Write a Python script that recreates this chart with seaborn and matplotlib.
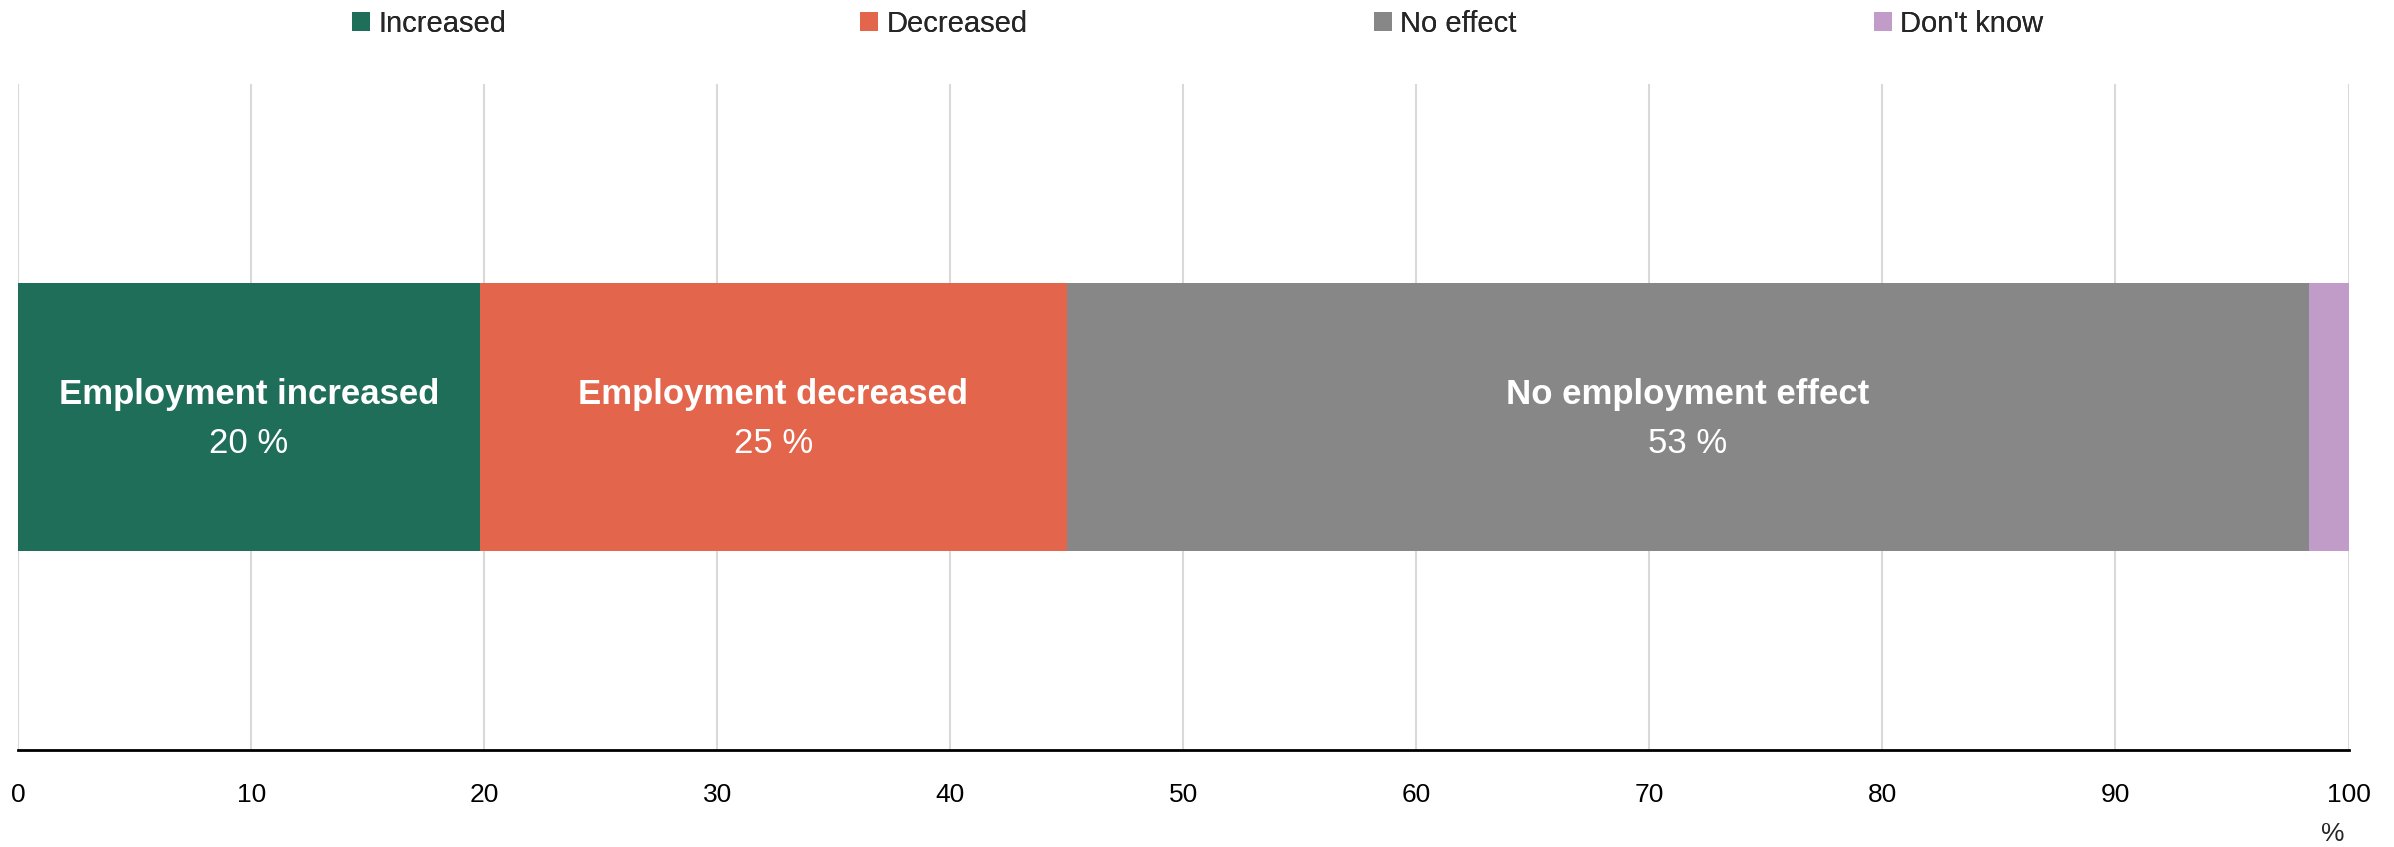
import numpy as np
import pandas as pd
import matplotlib
matplotlib.use("Agg")
import matplotlib.pyplot as plt
from matplotlib import font_manager
from matplotlib.patches import Patch
import seaborn as sns

# Survey shares (%) of firms by employment effect
categories = ["Increased", "Decreased", "No effect", "Don't know"]
shares = [19.8, 25.2, 53.3, 1.7]
segment_labels = ["Employment increased", "Employment decreased", "No employment effect", ""]
colors = ["#1F6E5A", "#E3654C", "#878787", "#C19CC8"]
x_ticks = [0, 10, 20, 30, 40, 50, 60, 70, 80, 90, 100]

sns.set_theme(style="white")
available = {f.name for f in font_manager.fontManager.ttflist}
narrow = "Liberation Sans Narrow" if "Liberation Sans Narrow" in available else "Liberation Sans"
plt.rcParams["font.family"] = [narrow, "DejaVu Sans"]

fig = plt.figure(figsize=(23.94, 8.47), dpi=100)
ax = fig.add_axes([0.00765, 0.115, 0.981 - 0.00765, 0.901 - 0.115])

# Stacked bar: draw cumulative totals from the widest down so each segment shows
cum = np.cumsum(shares)
starts = cum - np.array(shares)
df = pd.DataFrame({"row": ["all"] * len(categories), "category": categories, "cum": cum})
for i in range(len(categories) - 1, -1, -1):
    sns.barplot(data=df.iloc[[i]], x="cum", y="row", color=colors[i], width=0.403,
                saturation=1, ax=ax, orient="h", linewidth=0, zorder=3)

ax.set_ylim(0.5, -0.5)
ax.set_xlim(0, 100)
ax.set_xticks(x_ticks)
ax.set_xticklabels([str(t) for t in x_ticks], fontsize=19)
ax.tick_params(axis="x", length=0, pad=24, colors="black")
ax.set_yticks([])
ax.set_xlabel("")
ax.set_ylabel("")
for t in x_ticks:
    ax.axvline(t, color="#d9d9d9", linewidth=1.5, zorder=0)
for side in ["left", "right", "top"]:
    ax.spines[side].set_visible(False)
ax.spines["bottom"].set_color("black")
ax.spines["bottom"].set_linewidth(2)
ax.spines["bottom"].set_zorder(5)

# Segment labels
for s, w, lab in zip(starts, shares, segment_labels):
    if not lab:
        continue
    xc = s + w / 2
    ax.annotate(lab, xy=(xc, 0), xytext=(0, 16), textcoords="offset points",
                ha="center", va="center", color="white", fontsize=25, fontweight="bold", zorder=6)
    ax.annotate(f"{round(w)} %", xy=(xc, 0), xytext=(0, -19), textcoords="offset points",
                ha="center", va="center", color="white", fontsize=25, zorder=6)

fig.text(2333 / 2394, 1 - 834 / 847, "%", ha="center", va="center", fontsize=19)

# Legend entries spread evenly along the top
legend_x = [352, 860, 1374, 1874]
for name, col, lx in zip(categories, colors, legend_x):
    leg = fig.legend(handles=[Patch(facecolor=col, edgecolor="none")], labels=[name],
                     loc="center left", bbox_to_anchor=(lx / 2394, 1 - 24 / 847),
                     frameon=False, fontsize=21, handlelength=0.6, handleheight=0.6,
                     handletextpad=0.3, borderpad=0, borderaxespad=0)
    fig.add_artist(leg)

fig.savefig("out.png", dpi=100)
